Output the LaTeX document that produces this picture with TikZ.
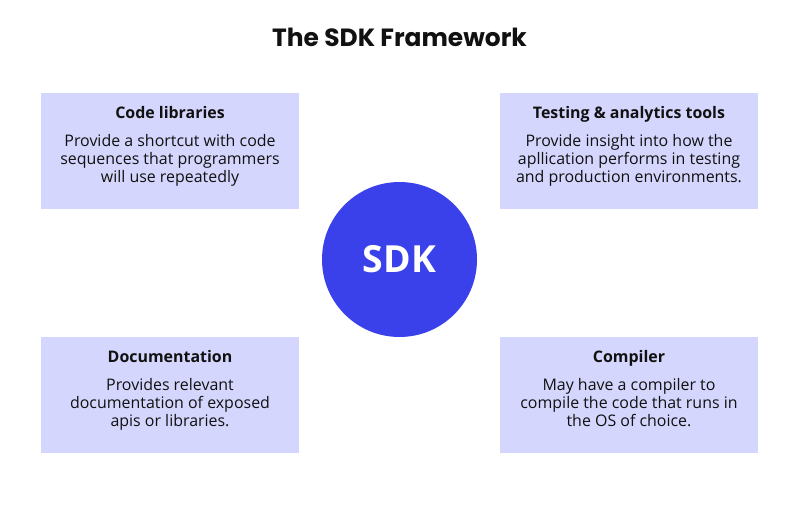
\documentclass[tikz,border=0pt]{standalone}
\usepackage{fontspec}
\setmainfont{Open Sans}
\newfontfamily\titlefont{Poppins}
\definecolor{cardfill}{HTML}{D5D6FD}
\definecolor{sdkblue}{HTML}{3A41EA}
\definecolor{inkc}{HTML}{111111}
\tikzset{
  card/.style={fill=cardfill, draw=none, minimum width=258bp, minimum height=116bp, inner sep=0pt},
  cardtext/.style={align=center, inner sep=0pt, text=inkc, font=\fontsize{16}{18.3}\selectfont, anchor=north},
}
\begin{document}
\begin{tikzpicture}[x=1bp,y=-1bp]
\useasboundingbox (0,0) rectangle (800,519);
\fill[white] (0,0) rectangle (800,519);
\node[anchor=base, inner sep=0pt, text=inkc, font=\titlefont\bfseries\fontsize{25}{28}\selectfont] (title) at (399.5,47) {The SDK Framework};

\node[card] (b1) at (170,151) {};
\node[card] (b2) at (629,151) {};
\node[card] (b3) at (170,395) {};
\node[card] (b4) at (629,395) {};

\node[cardtext] (t1) at ([yshift=-13.5bp]b1.north) {{\bfseries Code libraries}\\[9.2bp]Provide a shortcut with code\\sequences that programmers\\will use repeatedly};
\node[cardtext] (t2) at ([yshift=-13.5bp]b2.north) {{\bfseries Testing \& analytics tools}\\[9.2bp]Provide insight into how the\\apllication performs in testing\\and production environments.};
\node[cardtext] (t3) at ([yshift=-13.5bp]b3.north) {{\bfseries Documentation}\\[9.2bp]Provides relevant\\documentation of exposed\\apis or libraries.};
\node[cardtext] (t4) at ([yshift=-13.5bp]b4.north) {{\bfseries Compiler}\\[9.2bp]May have a compiler to\\compile the code that runs in\\the OS of choice.};

\node[circle, fill=sdkblue, minimum size=155bp, inner sep=0pt, text=white, font=\bfseries\fontsize{37.5}{40}\selectfont] (sdk) at (399.5,259.5) {SDK};
\end{tikzpicture}
\end{document}
